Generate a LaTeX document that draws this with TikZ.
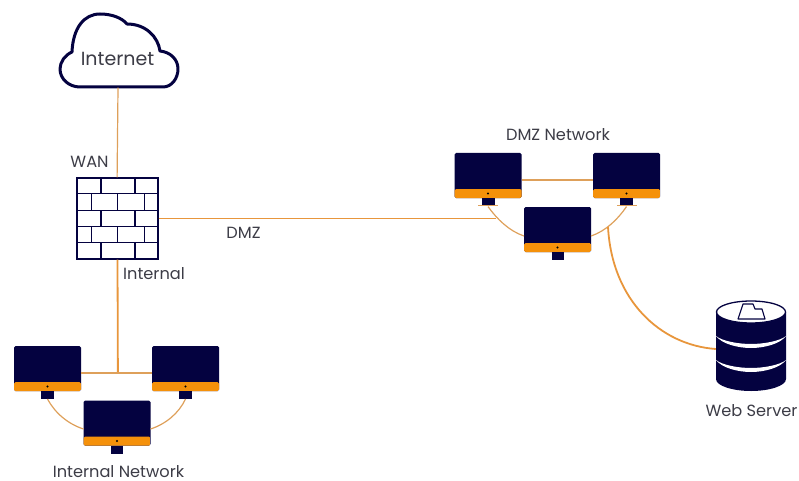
\documentclass[tikz,border=0pt]{standalone}
\usepackage{fontspec}
\setmainfont{Poppins}
\definecolor{navy}{RGB}{4,2,64}
\definecolor{band}{RGB}{245,145,10}
\definecolor{wire}{RGB}{222,160,90}
\definecolor{wirebold}{RGB}{232,150,60}
\definecolor{txt}{RGB}{60,60,70}
\tikzset{
  screen/.style={draw=none,fill=navy,rounded corners=1.5pt,minimum width=67pt,minimum height=45pt,inner sep=0pt,outer sep=0pt,
    path picture={\fill[band] ([yshift=9pt]path picture bounding box.south west) rectangle (path picture bounding box.south east);
      \fill[black] ([yshift=4.5pt]path picture bounding box.south) circle (1.2pt);}},
  stand/.style={fill=navy,minimum width=13pt,minimum height=8pt,inner sep=0pt,outer sep=0pt,anchor=north},
  thin wire/.style={draw=wire,line width=1.2pt},
  bold wire/.style={draw=wirebold,line width=1.8pt},
  lbl/.style={text=txt,font=\fontsize{16.2}{16.2}\selectfont,inner sep=0pt},
  brick/.style={draw=navy,line width=1.1pt}
}
\begin{document}
\begin{tikzpicture}[x=1pt,y=-1pt]
\useasboundingbox (0,0) rectangle (799,481);
% cloud
\node[inner sep=0pt,minimum width=118pt,minimum height=73pt] (cloud) at (118,51) {};
\draw[navy,line width=3pt,fill=white,line join=round]
  (80,87) -- (163,87) .. controls (172,87) and (178,78) .. (178,69)
  .. controls (178,59) and (170,52) .. (160,51)
  .. controls (158,37) and (146,24) .. (127,24)
  .. controls (122,18) and (112,14) .. (100,14)
  .. controls (84,14) and (73,28) .. (72,52)
  .. controls (65,55) and (60,62) .. (60,69)
  .. controls (60,79) and (69,87) .. (80,87) -- cycle;
\node[lbl,font=\fontsize{19}{19}\selectfont] (inet) at (117.5,59) {Internet};
% firewall
\node[draw=navy,line width=1.3pt,fill=white,minimum width=81pt,minimum height=81pt,inner sep=0pt] (fw) at (117.5,218.5) {};
\foreach \y in {193.3,210.7,226.7,242.7}{\draw[brick] (77,\y) -- (158,\y);}
\foreach \a/\b in {178.3/193.3,210.7/226.7,242.7/259}{\foreach \x in {101,135}{\draw[brick] (\x,\a) -- (\x,\b);}}
\foreach \a/\b in {193.3/210.7,226.7/242.7}{\foreach \x in {91.7,117.7,144.3}{\draw[brick] (\x,\a) -- (\x,\b);}}
% monitors internal
\node[screen] (ia) at (47.5,368.5) {};
\node[stand] (ias) at (47.5,391) {};
\node[screen] (ib) at (185.5,368.5) {};
\node[stand] (ibs) at (185.5,391) {};
\node[screen] (ic) at (117,423) {};
\node[stand,minimum width=12pt] (ics) at (116.5,445.5) {};
% monitors DMZ
\node[screen] (da) at (488,175.5) {};
\node[stand,minimum height=7pt] (das) at (488,198) {};
\node[fill=wire,minimum width=20pt,minimum height=1.2pt,inner sep=0pt,anchor=north] (dab) at (488,205) {};
\node[screen] (db) at (626.5,175.5) {};
\node[stand,minimum height=7pt] (dbs) at (626.5,198) {};
\node[fill=wire,minimum width=20pt,minimum height=1.2pt,inner sep=0pt,anchor=north] (dbb) at (626.5,205) {};
\node[screen] (dc) at (557.5,229.5) {};
\node[stand,minimum width=12pt] (dcs) at (557.5,252) {};
% server
\node[inner sep=0pt,minimum width=70pt,minimum height=91pt] (srv) at (751,345.5) {};
\fill[navy] (716,312) -- (716,379) .. controls (716,386) and (733,391) .. (751,391) .. controls (769,391) and (786,386) .. (786,379) -- (786,312) -- cycle;
\foreach \y in {336,360}{
  \fill[white] (716,\y) .. controls (722,\y+8) and (738,\y+12) .. (751,\y+12) .. controls (764,\y+12) and (780,\y+8) .. (786,\y)
     .. controls (780,\y+5) and (764,\y+8) .. (751,\y+8) .. controls (738,\y+8) and (722,\y+5) .. (716,\y) -- cycle;
}
\draw[navy,line width=1.3pt,fill=white] (751,312) ellipse [x radius=34.5pt,y radius=11pt];
\draw[navy,line width=1.1pt,fill=white,line join=round] (738,319) -- (743,304) -- (753,304) -- (755,309) -- (762,309) -- (765,319) -- cycle;
% connectors
\coordinate (ij) at (117.9,373);
\coordinate (dj) at (496,218.5);
\coordinate (rj) at (608,227);
\draw[thin wire] (cloud.south) -- ([xshift=-0.4pt]fw.north);
\draw[bold wire] (fw.south) -- (ij);
\draw[thin wire] ([yshift=-4.5pt]ia.east) -- ([yshift=-4.5pt]ib.west);
\draw[thin wire] (ias.south) .. controls (55,413) and (68,424) .. ([yshift=-6pt]ic.west);
\draw[thin wire] (ibs.south) .. controls (179,413) and (166,424) .. ([yshift=-6pt]ic.east);
\draw[bold wire] (fw.east) -- (dj);
\draw[thin wire] (dab.south) .. controls (497,219) and (509,231) .. ([yshift=-6.5pt]dc.west);
\draw[thin wire] (dbb.south) .. controls (618,219) and (606,231) .. ([yshift=-6.5pt]dc.east);
\draw[thin wire] ([yshift=-4.5pt]da.east) -- ([yshift=-4.5pt]db.west);
\draw[bold wire] (rj) .. controls (612,300) and (660,345) .. (srv.west |- 0,349);
% labels
\node[lbl] (lw) at (89.5,162) {WAN};
\node[lbl] (li) at (154,274) {Internal};
\node[lbl] (ld) at (243.5,233) {DMZ};
\node[lbl] (ldn) at (558,135) {DMZ Network};
\node[lbl] (lin) at (118.5,471.5) {Internal Network};
\node[lbl] (lws) at (751.5,411) {Web Server};
\end{tikzpicture}
\end{document}
